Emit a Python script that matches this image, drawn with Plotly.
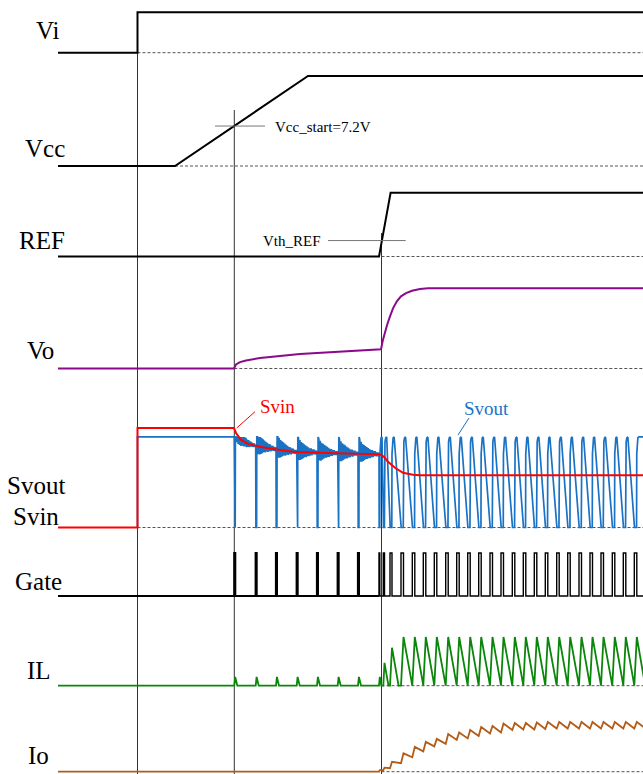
import numpy as np
import plotly.graph_objects as go

W, H = 643, 774
FONT = "Liberation Serif"

# ------------------------------------------------------------------
# DATA  (time in arbitrary units; every level normalised 0..1 per channel)
# ------------------------------------------------------------------
t_start, t_end = 58, 643

# event times
t_vi_on = 137.5          # input applied
t_sw_on = 234.3          # Vcc reaches Vcc_start, switching begins
t_ref_ok = 381.5         # REF passes Vth_REF, normal operation

vi_t = [58, 137.5, 137.5, 643]
vi_v = [0, 0, 1, 1]

vcc_t = [58, 175, 308, 643]
vcc_v = [0, 0, 1, 1]
vcc_start_level = 0.444

ref_t = [58, 379, 390.6, 643]
ref_v = [0, 0, 1, 1]
vth_ref_level = 0.25

vo_t = [58, 234, 236, 240, 246, 260, 300, 381, 383, 385, 387, 390, 393, 397, 401, 406, 412, 420, 428, 643]
vo_v = [0, 0, 0.05, 0.08, 0.10, 0.13, 0.18, 0.24, 0.36, 0.46, 0.54, 0.65, 0.75, 0.84, 0.90, 0.94, 0.97, 0.99, 1.0, 1.0]

svin_t = [58, 137.5, 137.5, 234, 236, 241, 248, 261, 280, 295, 328, 380, 384, 388, 395, 403, 413, 420, 643]
svin_v = [0, 0, 1, 1, 0.95, 0.88, 0.84, 0.81, 0.78, 0.76, 0.75, 0.735, 0.71, 0.66, 0.60, 0.55, 0.53, 0.525, 0.525]
svout_high = 0.91

# start-up burst pulses (between Vcc_start and REF ok)
burst_t = [234.3, 255.7, 276, 296.7, 317, 337.7, 358]
burst_w = 0.9
burst_il = 0.18
# Svout ringing after each burst pulse (offset from Svin level)
ring_offsets = [0.14, -0.08, 0.12, -0.08, 0.10, -0.07, 0.09, -0.06, 0.08, -0.05,
                0.07, -0.05, 0.06, -0.04, 0.05, -0.04, 0.04, -0.03, 0.04, -0.03,
                0.03, -0.02, 0.03, -0.02, 0.02, -0.02, 0.02, -0.01, 0.01, -0.01]
ring_step = 0.7

# normal switching pulses
run_t = [379, 383.3, 390, 401, 412.3, 423.3, 434.3, 445.7, 456.7, 467.7, 478.7, 490,
         501, 512.3, 523.3, 534.3, 545.3, 556.7, 567.7, 579, 590, 601, 612.3, 623.3, 634.3]
run_w = [0.8, 1.2, 2.0, 2.5, 2.5, 2.5, 2.5, 2.5, 2.5, 2.5, 2.5, 2.5,
         2.5, 2.5, 2.5, 2.5, 2.5, 2.5, 2.5, 2.5, 2.5, 2.5, 2.5, 2.5, 2.5]
run_il = [0.18, 0.47, 0.78, 1, 1, 1, 1, 1, 1, 1, 1, 1,
          1, 1, 1, 1, 1, 1, 1, 1, 1, 1, 1, 1, 1]
il_fall = 8.4   # time per unit of IL during the off time
io_peak = [0.03, 0.08, 0.20, 0.37, 0.50, 0.60, 0.66, 0.76, 0.79, 0.84, 0.90, 0.92,
           0.97, 0.98, 0.98, 0.99, 1, 1, 1, 1, 1, 1, 1, 1, 1]
io_trough = [0, 0.03, 0.07, 0.17, 0.29, 0.41, 0.51, 0.56, 0.64, 0.67, 0.72, 0.77,
             0.79, 0.84, 0.85, 0.85, 0.86, 0.87, 0.87, 0.87, 0.87, 0.87, 0.87, 0.87, 0.87]

labels = ["Vi", "Vcc", "REF", "Vo", "Svout", "Svin", "Gate", "IL", "Io"]

# ------------------------------------------------------------------
# waveform construction from the pulse data
# ------------------------------------------------------------------
def svin_at(t):
    return float(np.interp(t, svin_t[3:], svin_v[3:]))

# Gate (start-up burst and normal run drawn as two traces)
gb_t, gb_v = [t_start], [0]
for t in burst_t:
    gb_t += [t, t, t + burst_w, t + burst_w]
    gb_v += [0, 1, 1, 0]
gb_t.append(run_t[0]); gb_v.append(0)
gr_t, gr_v = [run_t[0] - 0.5], [0]
for t, w in zip(run_t, run_w):
    gr_t += [t, t, t + w, t + w]
    gr_v += [0, 1, 1, 0]
gr_t.append(t_end + 5); gr_v.append(0)

# IL
il_t, il_v = [t_start], [0]
for t in burst_t:
    il_t += [t, t + burst_w, t + burst_w + burst_il * il_fall * 1.4]
    il_v += [0, burst_il, 0]
for t, w, p in zip(run_t, run_w, run_il):
    il_t += [t, t + w, t + w + p * il_fall]
    il_v += [0, p, 0]

# Io
io_t, io_v = [t_start, run_t[0]], [0, 0]
for t, w, tr, pk in zip(run_t, run_w, io_trough, io_peak):
    io_t += [t, t + w]
    io_v += [tr, pk]
io_t.append(run_t[-1] + run_w[-1] + 8.7); io_v.append(io_trough[-1])

# Svout
so_t, so_v = [t_vi_on, t_vi_on, burst_t[0]], [0, svout_high, svout_high]
nxt_list = burst_t[1:] + [run_t[0]]
for t, nxt in zip(burst_t, nxt_list):
    so_t += [t + 0.2, t + burst_w, t + burst_w + 0.2]
    so_v += [0, 0, svout_high]
    for j, off in enumerate(ring_offsets):
        tt = t + burst_w + 0.2 + (j + 1) * ring_step
        if tt >= nxt - 0.2:
            break
        so_t.append(tt)
        so_v.append(min(svin_at(tt) + off, svout_high))
    so_t.append(nxt); so_v.append(svin_at(nxt))
for t, w in zip(run_t, run_w):
    so_t += [t + 0.2, t + 0.9 * w, t + 0.9 * w + 0.2, t + 0.9 * w + 0.6,
             t + 0.9 * w + 1.3, t + 0.9 * w + 2.3]
    so_v += [0, 0, 0.74, 0.86, 0.90, svout_high]
so_t.append(t_end + 5); so_v.append(svout_high)

# ------------------------------------------------------------------
# layout helpers: channel rows (baseline / full-scale pixel rows)
# ------------------------------------------------------------------
rows = {  # axis: (baseline_px, top_px)
    "y":  (52.7, 12.3),
    "y2": (166, 76),
    "y3": (256.5, 192.7),
    "y4": (368.5, 288.3),
    "y5": (527.5, 428),
    "y6": (596, 553),
    "y7": (685.7, 637),
    "y8": (771.7, 722),
}

def px(x, y):
    return x / W, 1 - y / H

fig = go.Figure()

axes = {}
for ax, (b, tp) in rows.items():
    s = b - tp
    bot = min(b + 8, H)
    top = max(tp - 8, 0)
    axes[ax] = dict(domain=[1 - bot / H, 1 - top / H],
                    range=[-(bot - b) / s, (b - top) / s],
                    visible=False, fixedrange=True, anchor="x")

def line(ax, t, v, color, width=2):
    fig.add_trace(go.Scatter(x=t, y=v, mode="lines", yaxis=ax, xaxis="x",
                             line=dict(color=color, width=width),
                             hoverinfo="skip", showlegend=False))

BLACK = "#000000"
line("y", vi_t, vi_v, BLACK, 2)
line("y2", vcc_t, vcc_v, BLACK, 2)
line("y3", ref_t, ref_v, BLACK, 2)
line("y4", vo_t, vo_v, "#8b0a8b", 2)
line("y5", so_t, so_v, "#1a72c4", 1.7)
line("y5", svin_t, svin_v, "#ff0000", 2)
line("y6", gb_t, gb_v, BLACK, 2.2)
line("y6", gr_t, gr_v, BLACK, 1.4)
line("y7", il_t, il_v, "#0a860a", 1.8)
line("y8", io_t, io_v, "#b25c18", 1.8)

shapes = []
# event vertical lines
for t, top_px in [(t_vi_on, 52.7), (t_sw_on, 110), (t_ref_ok, 233)]:
    shapes.append(dict(type="line", xref="x", yref="paper", x0=t, x1=t,
                       y0=0, y1=1 - top_px / H, layer="below",
                       line=dict(color="#333333", width=1)))
# dashed zero references
for ax, t0 in [("y", t_vi_on), ("y2", 175), ("y3", t_ref_ok), ("y4", t_sw_on),
               ("y5", t_vi_on), ("y7", t_ref_ok), ("y8", t_ref_ok)]:
    shapes.append(dict(type="line", xref="x", yref=ax, x0=t0, x1=t_end, y0=0, y1=0,
                       layer="below", line=dict(color="#555555", width=1, dash="3px,2px")))
# Vcc_start and Vth_REF markers
shapes.append(dict(type="line", xref="x", yref="y2", x0=215, x1=265,
                   y0=vcc_start_level, y1=vcc_start_level,
                   line=dict(color="#777777", width=1)))
shapes.append(dict(type="line", xref="x", yref="y3", x0=328, x1=405.7,
                   y0=vth_ref_level, y1=vth_ref_level,
                   line=dict(color="#777777", width=1)))
# leader lines
for (x0, y0, x1, y1, c) in [(255, 411.7, 236.7, 428, "#ff0000"), (469, 418, 458, 435, "#1a72c4")]:
    a0 = px(x0, y0); a1 = px(x1, y1)
    shapes.append(dict(type="line", xref="paper", yref="paper", x0=a0[0], y0=a0[1],
                       x1=a1[0], y1=a1[1], line=dict(color=c, width=1)))

annotations = []
label_pos = {  # right edge px, text baseline px
    "Vi": (61, 39), "Vcc": (66, 157), "REF": (66, 248), "Vo": (55, 359),
    "Svout": (66, 493), "Svin": (60, 524), "Gate": (63, 589), "IL": (52, 678), "Io": (50, 763),
}
for name in labels:
    xr, yb = label_pos[name]
    ax_, ay_ = px(xr + 1, yb - 8)
    annotations.append(dict(text=name, x=ax_, y=ay_, xref="paper", yref="paper",
                            xanchor="right", yanchor="middle", showarrow=False,
                            font=dict(family=FONT, size=25, color="black")))

def note(text, x, y, anchor, size, color):
    a = px(x, y)
    annotations.append(dict(text=text, x=a[0], y=a[1], xref="paper", yref="paper",
                            xanchor=anchor, yanchor="middle", showarrow=False,
                            font=dict(family=FONT, size=size, color=color)))

note("Vcc_start=7.2V", 273, 127, "left", 15, "black")
note("Vth_REF", 323, 241, "right", 15, "black")
note("Svin", 258, 406, "left", 19, "#ff0000")
note("Svout", 462, 408, "left", 19, "#1a72c4")

layout = dict(
    width=W, height=H, margin=dict(l=0, r=0, t=0, b=0),
    paper_bgcolor="white", plot_bgcolor="white", showlegend=False,
    xaxis=dict(range=[0, W], domain=[0, 1], visible=False, fixedrange=True),
    shapes=shapes, annotations=annotations,
)
for ax, cfg in axes.items():
    key = "yaxis" if ax == "y" else "yaxis" + ax[1:]
    layout[key] = cfg
fig.update_layout(**layout)

fig.write_html("out.html", config={"displayModeBar": False},
               post_script="document.body.style.margin='0';document.body.style.overflow='hidden';")
